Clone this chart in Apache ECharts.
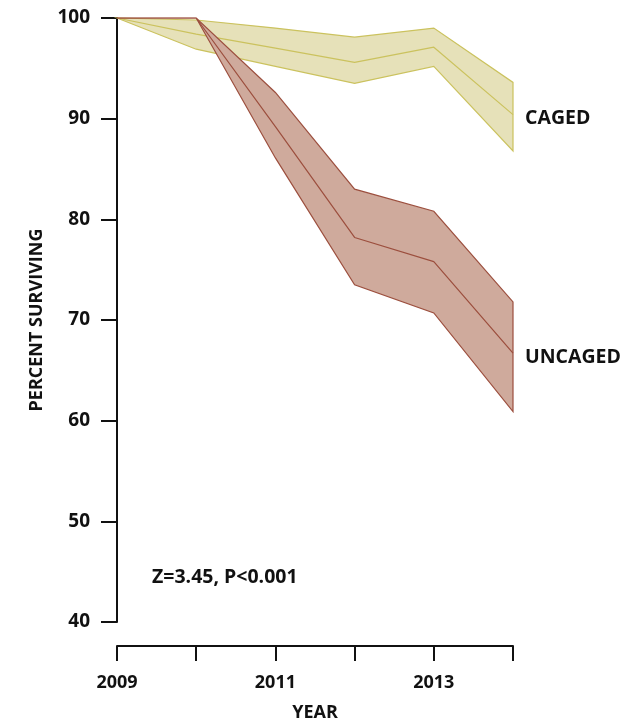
<!DOCTYPE html>
<html>
<head>
<meta charset="utf-8">
<script src="https://cdn.jsdelivr.net/npm/echarts@6/dist/echarts.min.js"></script>
<style>html,body{margin:0;padding:0;background:#fff}#c{width:644px;height:724px}</style>
</head>
<body>
<div id="c"></div>
<script>
var years = [2009, 2010, 2011, 2012, 2013, 2014];
var xTickLabels = ['2009', '', '2011', '', '2013', ''];
var yTicks = [40, 50, 60, 70, 80, 90, 100];
var cagedMean  = [100, 98.4, 97.0, 95.6, 97.1, 90.4];
var cagedUpper = [100, 99.8, 99.0, 98.1, 99.0, 93.6];
var cagedLower = [100, 96.9, 95.2, 93.5, 95.2, 86.8];
var uncagedMean  = [100, 100, 89.2, 78.2, 75.8, 66.7];
var uncagedUpper = [100, 100, 92.6, 83.0, 80.8, 71.8];
var uncagedLower = [100, 100, 86.1, 73.5, 70.7, 60.9];

var FONT = '"Open Sans", "Noto Sans", sans-serif';

function bandSeries(name, lower, upper, fill, stroke, z) {
  return {
    type: 'custom',
    name: name,
    z: z,
    data: [[years[0], lower[0]]],
    renderItem: function (params, api) {
      var pts = [];
      for (var i = 0; i < years.length; i++) pts.push(api.coord([years[i], upper[i]]));
      for (var j = years.length - 1; j >= 0; j--) pts.push(api.coord([years[j], lower[j]]));
      return {
        type: 'polygon',
        shape: { points: pts },
        style: { fill: fill, stroke: stroke, lineWidth: 1.2, lineJoin: 'miter' }
      };
    },
    silent: true
  };
}

function meanSeries(name, vals, stroke, label, z) {
  return {
    type: 'line',
    name: name,
    z: z,
    data: years.map(function (y, i) { return [y, vals[i]]; }),
    symbol: 'none',
    lineStyle: { color: stroke, width: 1.2 },
    endLabel: {
      show: true,
      formatter: label,
      distance: 12,
      offset: [0, 4],
      color: '#111',
      fontFamily: FONT,
      fontWeight: 'bold',
      fontSize: 19.5
    },
    silent: true,
    animation: false
  };
}

var chart = echarts.init(document.getElementById('c'));
chart.setOption({
  animation: false,
  backgroundColor: '#fff',
  grid: { left: 117, right: 131, top: 18, bottom: 102, outerBoundsMode: 'none', containLabel: false },
  xAxis: {
    type: 'value',
    min: 2009, max: 2014, interval: 1,
    offset: 24,
    name: 'YEAR',
    nameLocation: 'middle',
    nameGap: 58,
    nameTextStyle: { color: '#111', fontFamily: FONT, fontWeight: 'bold', fontSize: 18 },
    axisLine: { show: true, lineStyle: { color: '#111', width: 2 } },
    axisTick: { show: true, length: 15, lineStyle: { color: '#111', width: 2 } },
    axisLabel: {
      margin: 28,
      color: '#111', fontFamily: FONT, fontWeight: 'bold', fontSize: 18,
      formatter: function (v) { var i = years.indexOf(v); return i >= 0 ? xTickLabels[i] : ''; }
    },
    splitLine: { show: false }
  },
  yAxis: {
    type: 'value',
    min: yTicks[0], max: yTicks[yTicks.length - 1], interval: 10,
    name: 'PERCENT SURVIVING',
    nameLocation: 'middle',
    nameGap: 71,
    nameTextStyle: { color: '#111', fontFamily: FONT, fontWeight: 'bold', fontSize: 18 },
    axisLine: { show: true, lineStyle: { color: '#111', width: 2 } },
    axisTick: { show: true, length: 16, lineStyle: { color: '#111', width: 2 } },
    axisLabel: { margin: 27, color: '#111', fontFamily: FONT, fontWeight: 'bold', fontSize: 19 },
    splitLine: { show: false }
  },
  graphic: [{
    type: 'text',
    left: 152, top: 567,
    style: { text: 'Z=3.45, P<0.001', fill: '#111', font: 'bold 19.5px ' + FONT }
  }],
  series: [
    bandSeries('caged band', cagedLower, cagedUpper, '#e6e1b9', '#cbc25e', 1),
    meanSeries('CAGED', cagedMean, '#cbc25e', 'CAGED', 2),
    bandSeries('uncaged band', uncagedLower, uncagedUpper, '#cfaa9c', '#9c4f3e', 3),
    meanSeries('UNCAGED', uncagedMean, '#9c4f3e', 'UNCAGED', 4)
  ]
});
</script>
</body>
</html>
